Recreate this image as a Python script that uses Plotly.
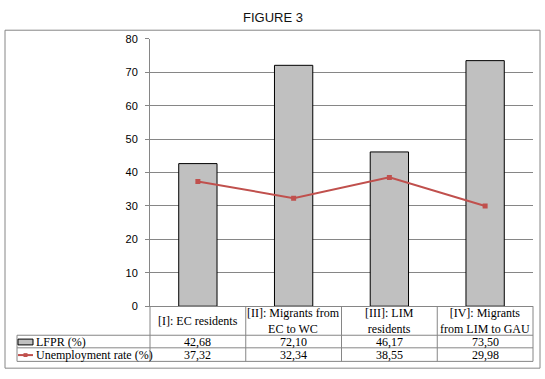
import plotly.graph_objects as go

# ---- data ----
categories = ["[I]: EC residents", "[II]: Migrants from<br>EC to WC",
              "[III]: LIM<br>residents", "[IV]: Migrants<br>from LIM to GAU"]
lfpr = [42.68, 72.10, 46.17, 73.50]
unemployment = [37.32, 32.34, 38.55, 29.98]
series_names = ["LFPR (%)", "Unemployment rate (%)"]
y_ticks = [0, 10, 20, 30, 40, 50, 60, 70, 80]
title_text = "FIGURE 3"

W, H = 545, 379
def X(p): return p / W
def Y(p): return 1 - p / H

GRID = "#868686"
RED = "#C0504D"
BARFILL = "#C0C0C0"
SERIF = "Liberation Serif"
SANS = "Liberation Sans"

def fmt(v):
    return f"{v:.2f}".replace(".", ",")

fig = go.Figure()
fig.add_trace(go.Bar(x=categories, y=lfpr, marker=dict(color=BARFILL, line=dict(color="black", width=1)),
                     name=series_names[0], showlegend=False, hoverinfo="skip"))
fig.add_trace(go.Scatter(x=categories, y=unemployment, mode="lines+markers",
                         line=dict(color=RED, width=2),
                         marker=dict(symbol="square", size=5, color=RED),
                         name=series_names[1], showlegend=False, hoverinfo="skip"))

shapes = []
def hline(y, x0, x1, xref="paper"):
    shapes.append(dict(type="line", xref=xref, yref="paper", x0=x0, x1=x1, y0=Y(y), y1=Y(y),
                       line=dict(color=GRID, width=1)))
def vline(x, y0, y1, xref="paper"):
    shapes.append(dict(type="line", xref=xref, yref="paper", x0=x, x1=x, y0=Y(y0), y1=Y(y1),
                       line=dict(color=GRID, width=1)))

# outer chart border
shapes.append(dict(type="rect", xref="paper", yref="paper", x0=X(5), x1=X(540), y0=Y(374), y1=Y(25),
                   line=dict(color=GRID, width=1), fillcolor="rgba(0,0,0,0)"))
# data table grid
hline(340, X(17), X(533))
hline(353, X(17), X(533))
hline(367, X(17), X(533))
vline(X(17), 340, 367)
vline(X(150), 310, 367)
vline(X(533), 310, 367)
for i in range(1, len(categories)):
    vline(i - 0.5, 310, 367, xref="x")

# legend keys inside table
shapes.append(dict(type="rect", xref="paper", yref="paper", x0=X(18), x1=X(33), y0=Y(350), y1=Y(344),
                   line=dict(color="black", width=1), fillcolor=BARFILL))
shapes.append(dict(type="line", xref="paper", yref="paper", x0=X(18), x1=X(33), y0=Y(360.5), y1=Y(360.5),
                   line=dict(color=RED, width=2)))
shapes.append(dict(type="rect", xref="paper", yref="paper", x0=X(23.5), x1=X(27.5), y0=Y(362.5), y1=Y(358.5),
                   line=dict(color=RED, width=0), fillcolor=RED))

annotations = []
annotations.append(dict(text=title_text, xref="paper", yref="paper", x=X(273), y=Y(12),
                        showarrow=False, xanchor="center", yanchor="middle",
                        font=dict(family=SANS, size=13, color="#111111")))
for i, c in enumerate(categories):
    annotations.append(dict(text=c, xref="x", yref="paper", x=c, y=Y(325), showarrow=False,
                            xanchor="center", yanchor="middle",
                            font=dict(family=SERIF, size=12, color="black")))
    annotations.append(dict(text=fmt(lfpr[i]), xref="x", yref="paper", x=c, y=Y(347), showarrow=False,
                            xanchor="center", yanchor="middle",
                            font=dict(family=SERIF, size=12, color="black")))
    annotations.append(dict(text=fmt(unemployment[i]), xref="x", yref="paper", x=c, y=Y(360.5), showarrow=False,
                            xanchor="center", yanchor="middle",
                            font=dict(family=SERIF, size=12, color="black")))
annotations.append(dict(text=series_names[0], xref="paper", yref="paper", x=X(34), y=Y(347), showarrow=False,
                        xanchor="left", yanchor="middle", font=dict(family=SERIF, size=12, color="black")))
annotations.append(dict(text=series_names[1], xref="paper", yref="paper", x=X(34), y=Y(360.5), showarrow=False,
                        xanchor="left", yanchor="middle", font=dict(family=SERIF, size=12, color="black")))

fig.update_layout(
    width=W, height=H,
    margin=dict(l=0, r=0, t=0, b=0),
    paper_bgcolor="white", plot_bgcolor="white",
    bargap=0.6,
    showlegend=False,
    shapes=shapes,
    annotations=annotations,
    xaxis=dict(domain=[X(150), X(533)], type="category", showticklabels=False, ticks="",
               showgrid=False, showline=True, linecolor=GRID, linewidth=1, zeroline=False,
               range=[-0.5, len(categories) - 0.5]),
    yaxis=dict(domain=[Y(310), Y(34)], range=[0, 80], tickvals=y_ticks,
               showgrid=True, gridcolor=GRID, gridwidth=1,
               showline=True, linecolor=GRID, linewidth=1, zeroline=False,
               ticks="outside", ticklen=4, tickcolor=GRID,
               tickfont=dict(family=SANS, size=11, color="black"), ticklabelstandoff=5),
)

fig.write_html("out.html",
               config={"displayModeBar": False, "staticPlot": True},
               post_script=("document.documentElement.style.margin='0';"
                            "document.body.style.margin='0';"
                            "document.body.style.overflow='hidden';"))
